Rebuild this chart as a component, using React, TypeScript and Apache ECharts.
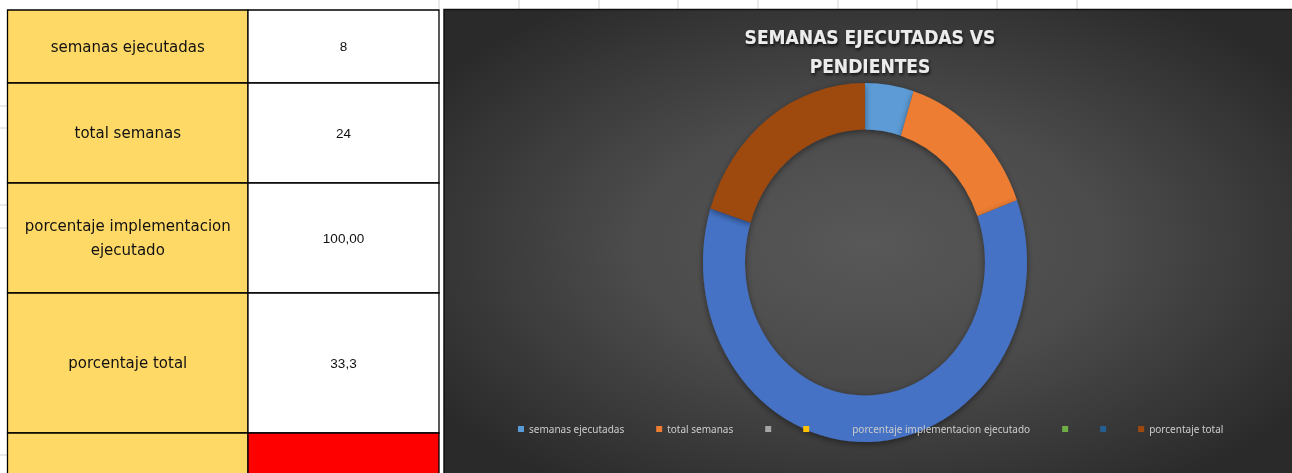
import React, { useEffect, useRef } from 'react';
import * as echarts from 'echarts';

// ---- Chart data ----
const categories = [
  'semanas ejecutadas',
  'total semanas',
  '',
  '',
  'porcentaje implementacion ejecutado',
  '',
  '',
  'porcentaje total',
];
const values = [8, 24, 0, 0, 100, 0, 0, 33.3];
const colors = ['#5B9BD5', '#ED7D31', '#A5A5A5', '#FFC000', '#4472C4', '#70AD47', '#255E91', '#9E480E'];
const chartTitle = 'SEMANAS EJECUTADAS VS\nPENDIENTES';

// ---- Spreadsheet table data ----
const tableLabels = ['semanas ejecutadas', 'total semanas', 'porcentaje implementacion\nejecutado', 'porcentaje total', ''];
const tableValues = ['8', '24', '100,00', '33,3', ''];

// layout
const rowEdges = [10, 83, 183, 293, 433, 490];
const colEdges = [7.5, 248, 439];
const PIE_CX = 865;
const PIE_CY = 262.5;
const PIE_SCALE_Y = 1.108;

// unique internal keys for unnamed categories (shown without text)
const BLANK = '#blank';
const itemNames = categories.map((c, i) => c || `${BLANK}${i}`);

export default function App() {
  const ref = useRef<HTMLDivElement>(null);

  useEffect(() => {
    const chart = echarts.init(ref.current!, null, { renderer: 'svg', width: 1292, height: 473 });

    const graphics: any[] = [];
    // gridline stubs of sheet
    [439, 519, 599, 678, 758, 838, 917, 997, 1077].forEach((x) => {
      graphics.push({ type: 'line', shape: { x1: x, y1: 0, x2: x, y2: 9 }, style: { stroke: '#d4d4d4', lineWidth: 1 }, z: 0 });
    });
    [106, 128, 205, 228, 455].forEach((y) => {
      graphics.push({ type: 'line', shape: { x1: 0, y1: y, x2: 7, y2: y }, style: { stroke: '#d4d4d4', lineWidth: 1 }, z: 0 });
    });

    // table
    tableLabels.forEach((lab, i) => {
      const y0 = rowEdges[i];
      const y1 = rowEdges[i + 1];
      graphics.push({
        type: 'rect',
        shape: { x: colEdges[0], y: y0, width: colEdges[1] - colEdges[0], height: y1 - y0 },
        style: { fill: '#FFD966', stroke: '#000', lineWidth: 1.3 },
        z: 1,
      });
      graphics.push({
        type: 'rect',
        shape: { x: colEdges[1], y: y0, width: colEdges[2] - colEdges[1], height: y1 - y0 },
        style: { fill: i === 4 ? '#FF0000' : '#ffffff', stroke: '#000', lineWidth: 1.3 },
        z: 1,
      });
      if (lab) {
        graphics.push({
          type: 'text',
          x: (colEdges[0] + colEdges[1]) / 2,
          y: (y0 + y1) / 2,
          style: {
            text: lab,
            align: 'center',
            verticalAlign: 'middle',
            fontSize: 15,
            fontFamily: 'DejaVu Sans',
            lineHeight: 24,
            fill: '#111',
          },
          z: 2,
        });
      }
      if (tableValues[i]) {
        graphics.push({
          type: 'text',
          x: (colEdges[1] + colEdges[2]) / 2,
          y: (y0 + y1) / 2,
          style: {
            text: tableValues[i],
            align: 'center',
            verticalAlign: 'middle',
            fontSize: 13.5,
            fontFamily: 'Liberation Sans',
            fill: '#111',
          },
          z: 2,
        });
      }
    });

    // chart frame with radial background
    graphics.push({
      type: 'rect',
      shape: { x: 444, y: 9.5, width: 850, height: 470 },
      style: {
        fill: {
          type: 'radial',
          x: 0.5,
          y: 0.5,
          r: 0.62,
          colorStops: [
            { offset: 0, color: '#585858' },
            { offset: 0.45, color: '#4b4b4b' },
            { offset: 0.8, color: '#363636' },
            { offset: 1, color: '#2a2a2a' },
          ],
          global: false,
        },
        stroke: '#111',
        lineWidth: 1.5,
      },
      z: 0,
    });

    // chart title
    graphics.push({
      type: 'text',
      x: 870,
      y: 51.5,
      style: {
        text: chartTitle,
        align: 'center',
        verticalAlign: 'middle',
        fontSize: 19,
        fontWeight: 'bold',
        fontFamily: "'DejaVu Sans Condensed', 'Liberation Sans Narrow', 'DejaVu Sans', sans-serif",
        lineHeight: 29,
        fill: '#ececec',
        textShadowColor: 'rgba(0,0,0,0.75)',
        textShadowBlur: 3,
        textShadowOffsetX: 1,
        textShadowOffsetY: 2,
      },
      z: 3,
    });

    chart.setOption({
      animation: false,
      graphic: { elements: graphics },
      legend: {
        left: 518,
        top: 424,
        padding: 0,
        itemWidth: 6,
        itemHeight: 6,
        itemGap: 32,
        icon: 'rect',
        selectedMode: false,
        data: itemNames,
        formatter: (name: string) => (name.indexOf(BLANK) === 0 ? '' : name),
        textStyle: { color: '#cccccc', fontSize: 10, fontFamily: 'Noto Sans' },
        z: 6,
      },
      series: [
        {
          type: 'pie',
          center: [PIE_CX, PIE_CY],
          radius: [120, 162],
          startAngle: 90,
          clockwise: true,
          silent: true,
          z: 4,
          label: { show: false },
          labelLine: { show: false },
          emphasis: { disabled: true },
          itemStyle: {
            borderWidth: 0,
            shadowBlur: 6,
            shadowColor: 'rgba(0,0,0,0.45)',
            shadowOffsetY: 2,
          },
          data: itemNames.map((name, i) => ({ name, value: values[i], itemStyle: { color: colors[i] } })),
        },
      ],
    });

    // stretch the doughnut vertically (Excel chart is slightly elliptical)
    try {
      const zr: any = chart.getZr();
      const list = zr.storage.getDisplayList(true);
      list.forEach((el: any) => {
        if (el.type === 'sector') {
          el.originX = PIE_CX;
          el.originY = PIE_CY;
          el.scaleY = PIE_SCALE_Y;
          el.markRedraw();
        }
      });
      zr.refreshImmediately();
    } catch (e) {
      // ignore
    }

    return () => chart.dispose();
  }, []);

  return <div ref={ref} style={{ position: 'fixed', left: 0, top: 0, width: 1292, height: 473 }} />;
}
